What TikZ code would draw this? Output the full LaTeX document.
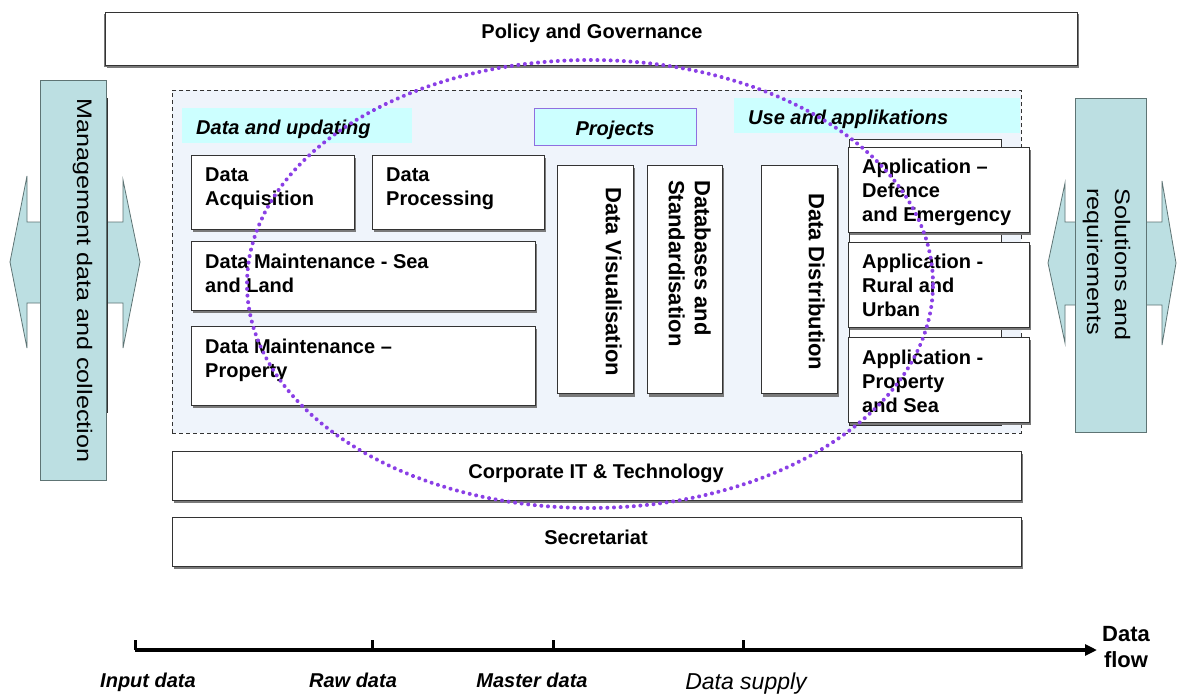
\documentclass[tikz,border=0pt]{standalone}
\usepackage{fontspec}
\setmainfont{Liberation Sans}
\newfontfamily\sidefont[FakeStretch=1.2]{Liberation Sans}
\usetikzlibrary{arrows.meta,calc,shadows}
\definecolor{contfill}{HTML}{EFF4FB}
\definecolor{cyanlbl}{HTML}{CCFFFF}
\definecolor{projborder}{HTML}{8F6FE0}
\definecolor{teal}{HTML}{BCDFE2}
\definecolor{tealline}{HTML}{5E7474}
\definecolor{boxline}{HTML}{333333}
\definecolor{shadowgray}{HTML}{7A7A7A}
\definecolor{ellcol}{HTML}{8A3FE6}
\begin{document}
\begin{tikzpicture}[x=1pt,y=-1pt,
  box/.style={draw=boxline, fill=white, line width=1pt, inner sep=0, anchor=north west,
     drop shadow={shadow xshift=1.5pt, shadow yshift=-2pt, fill=shadowgray, opacity=1}},
  vbox/.style={box, drop shadow={shadow xshift=1pt, shadow yshift=-3pt, fill=shadowgray, opacity=1}},
  lblbg/.style={fill=cyanlbl, inner sep=0, anchor=north west},
  txt/.style={font=\fontsize{20}{24}\selectfont\bfseries, inner sep=0, align=left, anchor=north west},
  ctxt/.style={font=\fontsize{20}{24}\selectfont\bfseries, inner sep=0, anchor=base},
  hdr/.style={font=\fontsize{20}{24}\selectfont\bfseries\itshape, inner sep=0},
  vtxt/.style={font=\fontsize{22}{26}\selectfont\bfseries, inner sep=0, rotate=-90, align=left, anchor=north west},
  sidetxt/.style={font=\sidefont\fontsize{21}{25}\selectfont, inner sep=0, rotate=-90, anchor=base west},
  arrowshape/.style={fill=teal, draw=tealline, line width=0.8pt},
  tllabel/.style={font=\fontsize{20}{24}\selectfont\bfseries\itshape, inner sep=0, anchor=base},
  ticks/.style={line width=3pt, draw=black},
  ell/.style={draw=ellcol, line width=4pt, line cap=round, dash pattern=on 0.01pt off 6.6pt}
]
\useasboundingbox (0,0) rectangle (1177,693);
\fill[white] (0,0) rectangle (1177,693);

% Policy
\node[box, minimum width=972pt, minimum height=53pt,
      drop shadow={shadow xshift=-1.5pt, shadow yshift=-1.5pt, fill=shadowgray, opacity=1}] (policy) at (105,12) {};
\node[ctxt] at (592,39) {Policy and Governance};

% Left double arrow
\draw[arrowshape] (10,262) -- (27,176) -- (27,222) -- (123,222) -- (123,180) -- (140,262)
   -- (123,348) -- (123,303) -- (27,303) -- (27,348) -- cycle;
\node[draw=tealline, fill=teal, line width=0.8pt, minimum width=66pt, minimum height=400pt, inner sep=0, anchor=north west] (leftbar) at (40,80) {};
\draw[boxline, line width=1.2pt] (107.5,98) -- (107.5,413);
\node[sidetxt] at (77,98) {Management data and collection};

% Right double arrow
\draw[arrowshape] (1048,263) -- (1065,183) -- (1065,222) -- (1162,222) -- (1162,181) -- (1176,263)
   -- (1162,345) -- (1162,305) -- (1065,305) -- (1065,343) -- cycle;
\node[draw=tealline, fill=teal, line width=0.8pt, minimum width=71pt, minimum height=334pt, inner sep=0, anchor=north west] (rightbar) at (1075,98) {};
\node[sidetxt] at (1115,188) {Solutions and};
\node[sidetxt] at (1087,188) {requirements};

% Container
\node[draw=boxline, fill=contfill, line width=0.9pt, dash pattern=on 4pt off 3pt,
      minimum width=849pt, minimum height=343pt, inner sep=0, anchor=north west] (cont) at (172,90) {};

% Headers
\node[lblbg, minimum width=230pt, minimum height=35pt] (dubg) at (182,108) {};
\node[hdr, anchor=base west] at (196,134) {Data and updating};
\node[lblbg, minimum width=286pt, minimum height=35pt] (usebg) at (734,98) {};
\node[hdr, anchor=base west] at (748,124) {Use and applikations};
\node[lblbg, draw=projborder, line width=1pt, minimum width=162pt, minimum height=37pt] (proj) at (534,108) {};
\node[hdr, anchor=base] at (615,135) {Projects};

% Data boxes
\node[box, minimum width=163pt, minimum height=74pt] (acq) at (191,155) {};
\node[txt] at ($(acq.north west)+(14,13)$) {Data\\Acquisition};
\node[box, minimum width=172pt, minimum height=74pt] (proc) at (372,155) {};
\node[txt] at ($(proc.north west)+(14,13)$) {Data\\Processing};
\node[box, minimum width=344pt, minimum height=69pt] (sea) at (191,241) {};
\node[txt] at ($(sea.north west)+(14,13)$) {Data Maintenance - Sea\\and Land};
\node[box, minimum width=344pt, minimum height=79pt] (prop) at (191,326) {};
\node[txt] at ($(prop.north west)+(14,13)$) {Data Maintenance --\\Property};

% Vertical boxes
\node[vbox, minimum width=76pt, minimum height=228pt] (vis) at (557,165) {};
\node[vtxt] at (622,187) {Data Visualisation};
\node[vbox, minimum width=75pt, minimum height=228pt] (dbs) at (647,165) {};
\node[vtxt] at (711,180) {Databases and\\Standardisation};
\node[vbox, minimum width=76pt, minimum height=228pt] (dist) at (761,165) {};
\node[vtxt] at (825,193) {Data Distribution};

% Application boxes (with stacked back boxes)
\foreach \t in {147,242,337}{
  \draw[boxline, fill=white, line width=1pt] (849,\t-8) rectangle (1001,\t+88);
}
\node[box, minimum width=181pt, minimum height=85pt] (def) at (848,147) {};
\node[txt] at ($(def.north west)+(14,12)$) {Application --\\Defence\\and Emergency};
\node[box, minimum width=181pt, minimum height=85pt] (rur) at (848,242) {};
\node[txt] at ($(rur.north west)+(14,12)$) {Application -\\Rural and\\Urban};
\node[box, minimum width=181pt, minimum height=85pt] (pse) at (848,337) {};
\node[txt] at ($(pse.north west)+(14,13)$) {Application -\\Property\\and Sea};

% Bottom bars
\node[box, minimum width=849pt, minimum height=49pt] (corp) at (172,451) {};
\node[ctxt] at (596,478) {Corporate IT \& Technology};
\node[box, minimum width=849pt, minimum height=49pt] (secr) at (172,517) {};
\node[ctxt] at (596,544) {Secretariat};

% Ellipse
\draw[ell] (590,284) ellipse [x radius=343pt, y radius=224pt];

% Timeline
\coordinate (t0) at (135,650);
\coordinate (t1) at (372,650);
\coordinate (t2) at (553,650);
\coordinate (t3) at (743,650);
\coordinate (tend) at (1097,650);
\draw[line width=3.8pt, -{Triangle[length=12pt,width=11pt]}] (t0) -- (tend);
\foreach \p in {t0,t1,t2,t3}{ \draw[ticks] (\p) -- ++(0,-10); }
\node[tllabel] at (148,687) {Input data};
\node[tllabel] at (353,687) {Raw data};
\node[tllabel] at (532,687) {Master data};
\node[font=\fontsize{23}{26}\selectfont\itshape, inner sep=0, anchor=base] at (746,689) {Data supply};
\node[font=\fontsize{22}{26}\selectfont\bfseries, inner sep=0, align=center, anchor=north] (flow) at (1126,626) {Data\\flow};
\end{tikzpicture}
\end{document}
